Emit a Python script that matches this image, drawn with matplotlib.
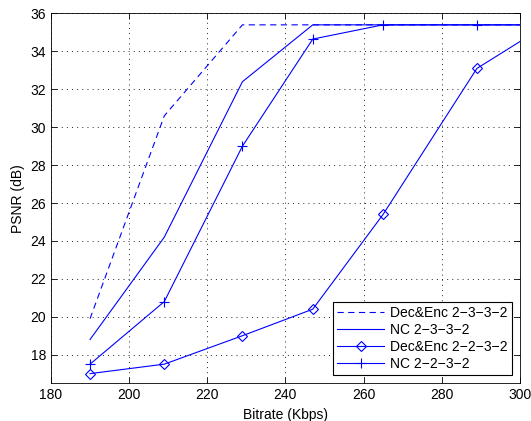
import matplotlib
matplotlib.use('Agg')
import matplotlib.pyplot as plt

plt.rcParams['font.family'] = ['Liberation Sans', 'DejaVu Sans']
plt.rcParams['font.size'] = 10
plt.rcParams['lines.scale_dashes'] = False

# bitrate (Kbps) and PSNR (dB) for each scheme
dec_enc_2332_x = [190, 209, 229, 247, 265, 289, 300]
dec_enc_2332_y = [19.9, 30.6, 35.4, 35.4, 35.4, 35.4, 35.4]

nc_2332_x = [190, 209, 229, 247, 265, 289, 300]
nc_2332_y = [18.8, 24.2, 32.4, 35.4, 35.4, 35.4, 35.4]

dec_enc_2232_x = [190, 209, 229, 247, 265, 289, 310]
dec_enc_2232_y = [17.0, 17.5, 19.0, 20.4, 25.4, 33.1, 35.8]

nc_2232_x = [190, 209, 229, 247, 265, 289, 310]
nc_2232_y = [17.5, 20.8, 29.0, 34.65, 35.4, 35.4, 35.4]

labels = ['Dec&Enc 2\u22123\u22123\u22122', 'NC 2\u22123\u22123\u22122',
          'Dec&Enc 2\u22122\u22123\u22122', 'NC 2\u22122\u22123\u22122']

fig = plt.figure(figsize=(5.31, 4.21), dpi=100)
ax = fig.add_axes([0.096, 0.090, 0.883, 0.878])

blue = (0, 0, 1)
ax.plot(dec_enc_2332_x, dec_enc_2332_y, color=blue, lw=0.8, dashes=(4.5, 3.2), label=labels[0])
ax.plot(nc_2332_x, nc_2332_y, color=blue, lw=0.8, label=labels[1])
ax.plot(dec_enc_2232_x, dec_enc_2232_y, color=blue, lw=0.8, marker='D', ms=5.5,
        mfc='none', mew=0.8, label=labels[2])
ax.plot(nc_2232_x, nc_2232_y, color=blue, lw=0.8, marker='+', ms=7.5,
        mew=0.8, label=labels[3])

ax.set_xlim(180, 300)
ax.set_ylim(16.5, 36)
ax.set_xticks(range(180, 301, 20))
ax.set_yticks(range(18, 37, 2))
ax.tick_params(direction='in', top=True, right=True, length=4, width=0.6)
for s in ax.spines.values():
    s.set_linewidth(0.6)
ax.grid(True, linestyle=(0, (0.7, 3.0)), color='k', lw=0.6)

ax.set_xlabel('Bitrate (Kbps)')
ax.set_ylabel('PSNR (dB)')

leg = ax.legend(loc='lower right', fancybox=False, framealpha=1, edgecolor='k',
                handlelength=3.4, borderpad=0.3, labelspacing=0.2,
                handletextpad=0.4, borderaxespad=0.6)
leg.get_frame().set_linewidth(0.8)

fig.savefig('out.png', dpi=100)
